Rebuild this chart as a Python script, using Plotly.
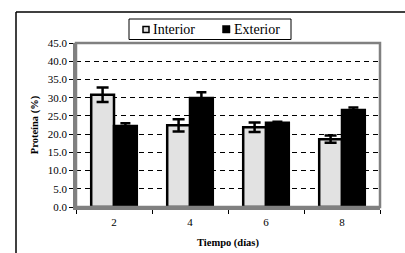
import plotly.graph_objects as go

dias = ["2", "4", "6", "8"]
series_names = ["Interior", "Exterior"]
interior = [30.8, 22.4, 21.9, 18.6]
interior_err = [2.0, 1.7, 1.3, 1.0]
exterior = [22.2, 29.9, 23.1, 26.6]
exterior_err = [0.8, 1.6, 0.3, 0.7]
yticks = [0, 5, 10, 15, 20, 25, 30, 35, 40, 45]

FONT = "Liberation Serif"
PW, PH = 304, 164  # plot area in px
L, T = 76, 43

def px(x):
    return (x - L) / PW

def py(y):
    return 1 + (T - y) / PH

fig = go.Figure()
fig.add_trace(go.Bar(
    name=series_names[0], x=dias, y=interior,
    marker=dict(color="#e2e2e2", line=dict(color="black", width=2.5)),
    error_y=dict(type="data", array=interior_err, color="black", thickness=2.5, width=6),
))
fig.add_trace(go.Bar(
    name=series_names[1], x=dias, y=exterior,
    marker=dict(color="black", line=dict(color="black", width=2.5)),
    error_y=dict(type="data", array=exterior_err, color="black", thickness=2.5, width=5),
))

shapes = [
    dict(type="rect", xref="paper", yref="paper", x0=0, x1=1, y0=0, y1=1,
         line=dict(color="#808080", width=2.5), layer="above"),
    dict(type="line", xref="paper", yref="paper", x0=px(16), x1=px(16), y0=py(253), y1=py(12),
         line=dict(color="black", width=1.5)),
    dict(type="line", xref="paper", yref="paper", x0=px(16), x1=px(405), y0=py(12), y1=py(12),
         line=dict(color="black", width=1.5)),
    dict(type="rect", xref="paper", yref="paper", x0=px(129), x1=px(291), y0=py(39.5), y1=py(19),
         line=dict(color="black", width=1), fillcolor="white"),
    dict(type="rect", xref="paper", yref="paper", x0=px(143), x1=px(149), y0=py(32.5), y1=py(26.5),
         line=dict(color="black", width=1.5), fillcolor="#e2e2e2"),
    dict(type="rect", xref="paper", yref="paper", x0=px(222.5), x1=px(230), y0=py(33), y1=py(25.5),
         line=dict(color="black", width=0.5), fillcolor="black"),
]
annotations = [
    dict(text=series_names[0], xref="paper", yref="paper", x=px(151), y=py(29.5),
         xanchor="left", yanchor="middle", showarrow=False, font=dict(size=14, family=FONT)),
    dict(text=series_names[1], xref="paper", yref="paper", x=px(232), y=py(29.5),
         xanchor="left", yanchor="middle", showarrow=False, font=dict(size=14, family=FONT)),
]

fig.update_layout(
    width=405, height=253,
    margin=dict(l=L, r=405 - L - PW, t=T, b=253 - T - PH, autoexpand=False),
    paper_bgcolor="white", plot_bgcolor="white",
    barmode="group", bargap=0.4, bargroupgap=0,
    font=dict(family=FONT, size=11, color="black"),
    showlegend=False,
    xaxis=dict(
        title=dict(text="<b>Tiempo (días)</b>", font=dict(size=10.5), standoff=12),
        tickson="boundaries", ticks="outside", ticklen=4, tickcolor="black", tickwidth=1,
        ticklabelstandoff=3,
        showline=True, linecolor="#808080", linewidth=2.5,
        showgrid=False, tickfont=dict(size=11), automargin=False,
    ),
    yaxis=dict(
        title=dict(text="<b>Proteína (%)</b>", font=dict(size=10.5), standoff=8),
        range=[0, 45], tickvals=yticks, ticktext=[f"{v:.1f}" for v in yticks],
        ticks="outside", ticklen=4, tickcolor="black", tickwidth=1,
        showgrid=True, gridcolor="black", gridwidth=1, griddash="5px,4px",
        showline=True, linecolor="#808080", linewidth=2.5,
        zeroline=False, tickfont=dict(size=11), automargin=False,
    ),
    shapes=shapes,
    annotations=annotations,
)

fig.write_html("out.html", config={"displayModeBar": False},
               post_script="document.body.style.margin='0px';")
